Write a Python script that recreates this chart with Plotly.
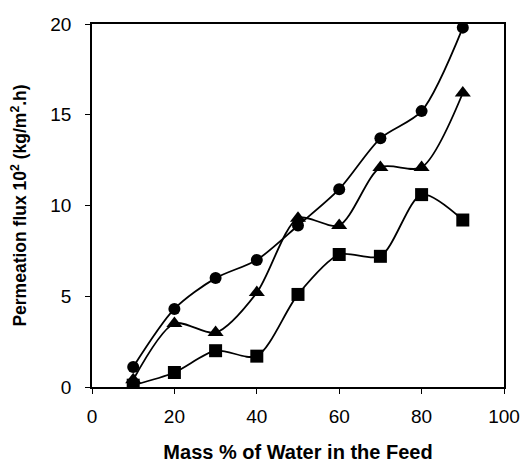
import plotly.graph_objects as go

water = [10, 20, 30, 40, 50, 60, 70, 80, 90]
flux_circle = [1.1, 4.3, 6.0, 7.0, 8.9, 10.9, 13.7, 15.2, 19.8]
flux_triangle = [0.4, 3.5, 3.0, 5.2, 9.3, 8.9, 12.1, 12.1, 16.2]
flux_square = [0.1, 0.8, 2.0, 1.7, 5.1, 7.3, 7.2, 10.6, 9.2]

fig = go.Figure()
series = [
    ("circle", flux_circle, "circle", 12),
    ("triangle", flux_triangle, "triangle-up", 14),
    ("square", flux_square, "square", 13),
]
for name, ys, sym, sz in series:
    fig.add_trace(go.Scatter(
        x=water, y=ys, mode="lines+markers", name=name,
        line=dict(color="black", width=1.8, shape="spline", smoothing=0.8),
        marker=dict(symbol=sym, size=sz, color="black"),
        showlegend=False,
    ))

font_family = "Liberation Sans, Arial, sans-serif"
fig.update_layout(
    width=528, height=463,
    margin=dict(l=92, r=24, t=24, b=76, autoexpand=False),
    paper_bgcolor="white", plot_bgcolor="white",
    font=dict(family=font_family, size=19, color="black"),
)
fig.update_xaxes(
    range=[0, 100], tickvals=[0, 20, 40, 60, 80, 100],
    showgrid=False, zeroline=False, automargin=False,
    showline=True, linecolor="black", linewidth=1.5, mirror=True,
    ticks="outside", ticklen=5, tickcolor="black",
    tickfont=dict(size=19), ticklabelstandoff=6,
    title=dict(text="<b>Mass % of Water in the Feed</b>", font=dict(size=20), standoff=22),
)
fig.update_yaxes(
    range=[0, 20], tickvals=[0, 5, 10, 15, 20],
    showgrid=False, zeroline=False, automargin=False,
    showline=True, linecolor="black", linewidth=1.5, mirror=True,
    ticks="outside", ticklen=5, tickcolor="black",
    tickfont=dict(size=19), ticklabelstandoff=10,
    title=dict(text="<b>Permeation flux 10<sup>2</sup> (kg/m<sup>2</sup>.h)</b>", font=dict(size=17.5), standoff=19),
)

fig.write_html("out.html")
